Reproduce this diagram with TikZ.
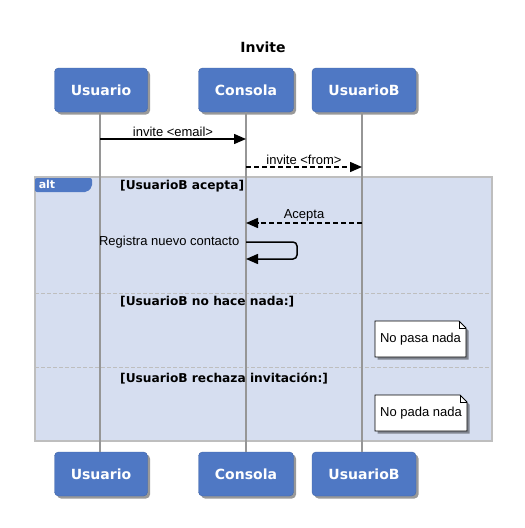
\documentclass[tikz,border=0pt]{standalone}
\usepackage{fontspec}
\setmainfont{DejaVu Sans}
\newfontfamily\msgfont{Liberation Sans}
\usetikzlibrary{arrows.meta,shadows}
\definecolor{partblue}{RGB}{79,120,196}
\definecolor{altfill}{RGB}{214,222,240}
\definecolor{altline}{RGB}{190,190,190}
\definecolor{lifegray}{RGB}{150,150,150}

\begin{document}
\begin{tikzpicture}[
  x=1pt, y=-1pt,
  part/.style={draw=partblue!85!black,fill=partblue,rounded corners=4pt,text=white,font=\fontsize{14}{16}\bfseries\selectfont,minimum height=44pt,inner sep=0pt,drop shadow={shadow xshift=2.5pt,shadow yshift=-2.5pt,fill=black,opacity=0.4}},
  life/.style={draw=lifegray,line width=2pt},
  msg/.style={line width=1.5pt,-{Triangle[length=12pt,width=10pt]}},
  rmsg/.style={msg,dashed,dash pattern=on 5pt off 3pt},
  lbl/.style={font=\msgfont\fontsize{13}{15}\selectfont,inner sep=1.5pt},
  guard/.style={font=\fontsize{12.2}{14}\bfseries\selectfont,anchor=west,inner sep=0pt},
  notebox/.style={draw,fill=white,line width=0.8pt,drop shadow={shadow xshift=2.5pt,shadow yshift=-2.5pt,fill=black,opacity=0.4}}
]
  \useasboundingbox (0,0) rectangle (525,528);
  \node[font=\fontsize{14}{16}\bfseries\selectfont] (title) at (263,47) {Invite};
  % alt frame
  \draw[altline,fill=altfill,line width=1.5pt] (35,177) rectangle (492,441);
  \draw[altline,line width=1pt,dash pattern=on 4pt off 2pt] (35,293) -- (492,293);
  \draw[altline,line width=1pt,dash pattern=on 4pt off 2pt] (35,367) -- (492,367);
  \fill[partblue,rounded corners=2pt] (35,178) -- (92,178) -- (92,187) -- (87,192) -- (35,192) -- cycle;
  \node[text=white,font=\fontsize{11}{13}\bfseries\selectfont] (alt) at (47,184.5) {alt};
  \node[guard] (g1) at (120,186) {[UsuarioB acepta]};
  \node[guard] (g2) at (120,302) {[UsuarioB no hace nada:]};
  \node[guard] (g3) at (120,378) {[UsuarioB rechaza invitación:]};
  % participants
  \node[part,minimum width=93pt] (u1) at (101,90) {Usuario};
  \node[part,minimum width=95pt] (c1) at (246,90) {Consola};
  \node[part,minimum width=104pt] (b1) at (364,90) {UsuarioB};
  \node[part,minimum width=93pt] (u2) at (101,474) {Usuario};
  \node[part,minimum width=95pt] (c2) at (246,474) {Consola};
  \node[part,minimum width=104pt] (b2) at (364,474) {UsuarioB};
  \coordinate (lu) at (100,0);
  \coordinate (lc) at (246,0);
  \coordinate (lb) at (362,0);
  \draw[life] (lu |- u1.south) -- (lu |- u2.north);
  \draw[life] (lc |- c1.south) -- (lc |- c2.north);
  \draw[life] (lb |- b1.south) -- (lb |- b2.north);
  % messages
  \coordinate (y1) at (0,139);
  \coordinate (y2) at (0,167);
  \coordinate (y3) at (0,223);
  \coordinate (y4) at (0,242);
  \coordinate (y5) at (0,259);
  \draw[msg] (lu |- y1) -- node[lbl,above] {invite \textless email\textgreater} (lc |- y1);
  \draw[rmsg] (lc |- y2) -- node[lbl,above] {invite \textless from\textgreater} (lb |- y2);
  \draw[rmsg] (lb |- y3) -- node[lbl,above] {Acepta} (lc |- y3);
  \draw[msg,rounded corners=4pt] (lc |- y4) -- (297,242) -- (297,259) -- (lc |- y5);
  \node[lbl,anchor=east] (reg) at (241,242) {Registra nuevo contacto};
  % notes
  \draw[notebox] (375,321) -- (459,321) -- (466,328) -- (466,357) -- (375,357) -- cycle;
  \draw[line width=0.8pt] (459,321) -- (459,328) -- (466,328);
  \node[lbl] (n1) at (420.5,339) {No pasa nada};
  \draw[notebox] (375,395) -- (460,395) -- (467,402) -- (467,431) -- (375,431) -- cycle;
  \draw[line width=0.8pt] (460,395) -- (460,402) -- (467,402);
  \node[lbl] (n2) at (421,413) {No pada nada};
\end{tikzpicture}
\end{document}
